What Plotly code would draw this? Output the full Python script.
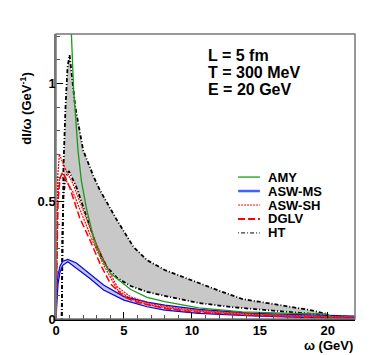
import plotly.graph_objects as go

# omega (GeV) and dI/omega (GeV^-1) for each model
amy_w = [1.0, 1.12, 1.3, 1.62, 1.87, 2.24, 2.74, 3.23, 4.0, 4.48, 5.5, 6.7, 8.0, 10.5, 13.7, 16.2, 18.7, 20.0, 20.3]
amy_v = [1.40, 1.20, 0.97, 0.715, 0.585, 0.47, 0.35, 0.268, 0.195, 0.172, 0.125, 0.092, 0.074, 0.047, 0.03, 0.026, 0.024, 0.021, 0.004]

asw_ms_w = [0, 0.05, 0.15, 0.3, 0.5, 0.87, 1.5, 2.5, 3.5, 5.0, 6.7, 8.0, 10.5, 14.5, 18.7, 22.0]
asw_ms_hi = [0, 0.13, 0.19, 0.225, 0.245, 0.253, 0.238, 0.193, 0.144, 0.095, 0.072, 0.059, 0.041, 0.024, 0.016, 0.012]
asw_ms_lo = [0, 0.07, 0.15, 0.2, 0.228, 0.243, 0.215, 0.172, 0.123, 0.08, 0.052, 0.038, 0.024, 0.013, 0.006, 0.004]

asw_sh_w = [0, 0.05, 0.12, 0.25, 0.62, 1.24, 2.0, 2.74, 3.5, 4.5, 5.5, 7.0, 9.0, 12.0, 16.0, 20.0, 22.0]
asw_sh_hi = [0, 0.35, 0.6, 0.70, 0.645, 0.575, 0.46, 0.35, 0.25, 0.137, 0.094, 0.065, 0.045, 0.03, 0.018, 0.01, 0.008]
asw_sh_lo = [0, 0.3, 0.5, 0.6, 0.6, 0.54, 0.43, 0.325, 0.23, 0.125, 0.085, 0.058, 0.04, 0.026, 0.015, 0.008, 0.006]

dglv_w = [0, 0.05, 0.15, 0.3, 0.5, 1.0, 1.74, 2.5, 3.23, 4.0, 5.0, 6.0, 8.0, 10.0, 14.0, 18.0, 22.0]
dglv_v = [0, 0.25, 0.5, 0.6, 0.624, 0.56, 0.43, 0.335, 0.236, 0.15, 0.094, 0.07, 0.045, 0.03, 0.016, 0.008, 0.004]

ht_hi_w = [0.42, 0.47, 0.55, 0.7, 0.85, 1.0, 1.2, 1.42, 2.0, 2.8, 3.23, 4.48, 5.7, 6.7, 8.0, 10.5, 12.0, 13.7, 16.2, 18.7, 19.3, 20.0]
ht_hi_v = [0, 0.4, 0.65, 0.9, 1.07, 1.12, 1.02, 0.9, 0.716, 0.6, 0.547, 0.42, 0.306, 0.25, 0.208, 0.152, 0.12, 0.085, 0.062, 0.038, 0.03, 0.02]
ht_lo_w = [0.42, 0.47, 0.55, 0.7, 0.95, 1.5, 2.0, 2.5, 3.0, 3.73, 4.48, 5.5, 6.7, 8.0, 10.5, 13.0, 14.5, 16.2, 18.7, 20.0]
ht_lo_v = [0, 0.35, 0.52, 0.6, 0.628, 0.56, 0.476, 0.39, 0.306, 0.222, 0.175, 0.14, 0.115, 0.098, 0.068, 0.05, 0.043, 0.035, 0.024, 0.016]

labels = ["L = 5 fm", "T = 300 MeV", "E = 20 GeV"]
legend_names = ["AMY", "ASW-MS", "ASW-SH", "DGLV", "HT"]

band_grey = "#c8c8c8"
FAM = "Liberation Sans, Arial, sans-serif"
fnt = dict(family=FAM, size=13, color="black", weight="bold")

ht_line = dict(color="black", width=1.8, dash="1px,2px,4px,2px")
msl = dict(color="blue", width=1.2)
shl = dict(color="red", width=1.2, dash="2px,1px")
dgl = dict(color="red", width=1.5, dash="7px,3px")
amyl = dict(color="#1a9a1a", width=1.3)

fig = go.Figure()

# HT band (drawn first, underneath)
fig.add_trace(go.Scatter(x=ht_hi_w, y=ht_hi_v, mode="lines", line=ht_line))
fig.add_trace(go.Scatter(x=ht_lo_w, y=ht_lo_v, mode="lines", fill="tonexty",
                         fillcolor=band_grey, line=ht_line))
# ASW-MS band
fig.add_trace(go.Scatter(x=asw_ms_w, y=asw_ms_hi, mode="lines", line=msl))
fig.add_trace(go.Scatter(x=asw_ms_w, y=asw_ms_lo, mode="lines", fill="tonexty",
                         fillcolor=band_grey, line=msl))
# ASW-SH
fig.add_trace(go.Scatter(x=asw_sh_w, y=asw_sh_hi, mode="lines", line=shl))
fig.add_trace(go.Scatter(x=asw_sh_w, y=asw_sh_lo, mode="lines", line=shl))
# DGLV
fig.add_trace(go.Scatter(x=dglv_w, y=dglv_v, mode="lines", line=dgl))
# AMY
fig.add_trace(go.Scatter(x=amy_w, y=amy_v, mode="lines", line=amyl))

# legend box drawn by hand to get the tight row spacing
leg_styles = [amyl, dict(color="#4060ff", width=2.5), dict(color="red", width=1, dash="2px,1px"),
              dict(color="red", width=2, dash="7px,3px"), dict(color="black", width=1, dash="1px,2px,4px,2px")]
for i, name in enumerate(legend_names):
    yy = 0.498 - 0.049 * i
    fig.add_shape(type="line", xref="paper", yref="paper", x0=0.609, x1=0.682, y0=yy, y1=yy,
                  line=leg_styles[i])
    fig.add_annotation(text=name, x=0.702, y=yy, xref="paper", yref="paper",
                       xanchor="left", yanchor="middle", showarrow=False, font=fnt)

for i, t in enumerate(labels):
    fig.add_annotation(text=t, x=0.502, y=[0.926, 0.866, 0.804][i], xref="paper", yref="paper",
                       xanchor="left", yanchor="middle", showarrow=False,
                       font=dict(family=FAM, size=16, color="black", weight="bold"))

fig.add_annotation(text="dI/ω (GeV<sup>-1</sup>)", textangle=-90, x=-0.133, y=0.874,
                   xref="paper", yref="paper", showarrow=False, font=fnt)
fig.add_annotation(text="ω (GeV)", x=1.0, y=-0.092, xref="paper", yref="paper",
                   xanchor="right", yanchor="middle", showarrow=False, font=fnt)

# frame
fig.add_shape(type="rect", xref="paper", yref="paper", x0=0, y0=0, x1=1, y1=1,
              line=dict(color="#777", width=1.5))

fig.update_xaxes(range=[0, 22], tickvals=[0, 5, 10, 15, 20], ticks="inside", ticklen=7,
                 tickcolor="black", tickfont=fnt, showgrid=False, zeroline=False,
                 showline=True, linecolor="black", linewidth=2, ticklabelstandoff=-2,
                 minor=dict(ticks="inside", ticklen=4, dtick=1, tick0=0, tickcolor="#555", showgrid=False))
fig.update_yaxes(range=[0, 1.21], tickvals=[0, 0.5, 1], ticktext=["0", "0.5", "1"],
                 ticks="inside", ticklen=7, tickcolor="black", tickfont=fnt,
                 showgrid=False, zeroline=False, showline=True, linecolor="#777", linewidth=1.5,
                 ticklabelstandoff=-4,
                 minor=dict(ticks="inside", ticklen=4, dtick=0.1, tick0=0, tickcolor="#555", showgrid=False))

# page body has an 8px margin, so the figure is 8px smaller on each side
fig.update_layout(width=366, height=347, autosize=False,
                  margin=dict(l=48, r=19, t=26, b=36),
                  plot_bgcolor="white", paper_bgcolor="white",
                  showlegend=False)

fig.write_html("out.html")
